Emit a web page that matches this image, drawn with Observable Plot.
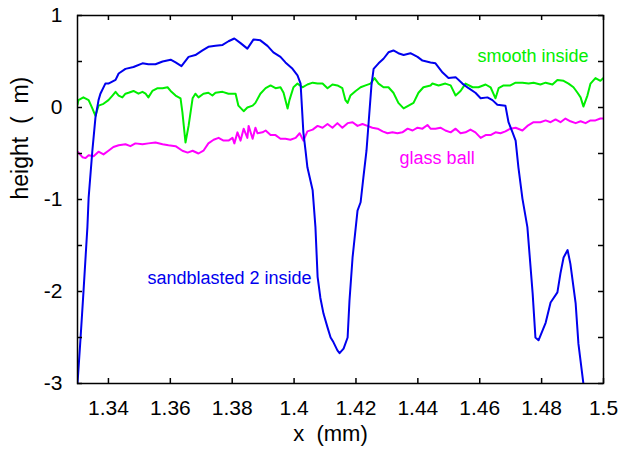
<!DOCTYPE html>
<html>
<head>
<meta charset="utf-8">
<script src="https://cdn.jsdelivr.net/npm/d3@7"></script>
<script src="https://cdn.jsdelivr.net/npm/@observablehq/plot@0.6"></script>
<style>
  html, body { margin: 0; padding: 0; background: #fff; }
</style>
</head>
<body>
<div id="chart"></div>
<script>
// sandblasted 2 inside (x in mm, height in µm)
const sandblasted = [[1.3300,-3.00],[1.3310,-2.50],[1.3319,-2.02],[1.3332,-1.30],[1.3336,-0.98],[1.3348,-0.47],[1.3358,-0.11],[1.3368,0.08],[1.3374,0.15],[1.3390,0.26],[1.3400,0.26],[1.3423,0.30],[1.3433,0.37],[1.3455,0.42],[1.3481,0.44],[1.3510,0.48],[1.3529,0.47],[1.3552,0.47],[1.3575,0.50],[1.3601,0.52],[1.3617,0.49],[1.3636,0.45],[1.3659,0.55],[1.3681,0.57],[1.3704,0.62],[1.3723,0.66],[1.3746,0.67],[1.3769,0.68],[1.3788,0.72],[1.3807,0.75],[1.3827,0.70],[1.3849,0.64],[1.3869,0.74],[1.3891,0.73],[1.3914,0.67],[1.3933,0.60],[1.3956,0.55],[1.3972,0.49],[1.3995,0.42],[1.4011,0.35],[1.4021,0.26],[1.4030,-0.27],[1.4037,-0.47],[1.4043,-0.65],[1.4060,-0.90],[1.4069,-1.30],[1.4076,-1.84],[1.4085,-2.07],[1.4095,-2.24],[1.4108,-2.39],[1.4118,-2.50],[1.4127,-2.55],[1.4140,-2.64],[1.4147,-2.67],[1.4160,-2.62],[1.4173,-2.50],[1.4179,-2.10],[1.4189,-1.63],[1.4205,-1.12],[1.4215,-1.03],[1.4224,-0.76],[1.4234,-0.47],[1.4241,-0.16],[1.4250,0.24],[1.4257,0.42],[1.4273,0.48],[1.4289,0.53],[1.4305,0.60],[1.4321,0.62],[1.4337,0.59],[1.4354,0.57],[1.4376,0.59],[1.4399,0.55],[1.4415,0.51],[1.4441,0.49],[1.4457,0.48],[1.4480,0.38],[1.4499,0.32],[1.4522,0.33],[1.4544,0.26],[1.4564,0.21],[1.4586,0.16],[1.4603,0.10],[1.4625,0.11],[1.4641,0.08],[1.4657,0.03],[1.4683,0.02],[1.4693,-0.16],[1.4706,-0.27],[1.4716,-0.36],[1.4725,-0.65],[1.4738,-0.99],[1.4754,-1.30],[1.4771,-2.02],[1.4780,-2.50],[1.4790,-2.53],[1.4813,-2.34],[1.4829,-2.12],[1.4851,-2.01],[1.4861,-1.80],[1.4871,-1.63],[1.4884,-1.55],[1.4893,-1.70],[1.4910,-2.13],[1.4919,-2.57],[1.4935,-3.00]];

// smooth inside
const smooth = [[1.3300,0.03],[1.3303,0.08],[1.3319,0.11],[1.3336,0.08],[1.3348,-0.01],[1.3358,-0.09],[1.3368,0.02],[1.3384,0.04],[1.3400,0.08],[1.3413,0.13],[1.3423,0.17],[1.3433,0.13],[1.3445,0.11],[1.3455,0.15],[1.3465,0.16],[1.3481,0.18],[1.3497,0.15],[1.3510,0.17],[1.3520,0.15],[1.3529,0.11],[1.3542,0.18],[1.3559,0.21],[1.3575,0.21],[1.3591,0.22],[1.3601,0.18],[1.3617,0.13],[1.3633,0.10],[1.3639,-0.05],[1.3649,-0.38],[1.3659,-0.20],[1.3672,0.10],[1.3681,0.15],[1.3691,0.11],[1.3707,0.15],[1.3723,0.16],[1.3736,0.13],[1.3746,0.16],[1.3769,0.17],[1.3788,0.15],[1.3811,0.15],[1.3820,0.02],[1.3837,-0.04],[1.3849,0.00],[1.3866,0.02],[1.3875,0.05],[1.3891,0.15],[1.3908,0.21],[1.3924,0.24],[1.3940,0.21],[1.3956,0.22],[1.3966,0.16],[1.3979,-0.01],[1.3985,0.08],[1.3998,0.22],[1.4011,0.26],[1.4027,0.22],[1.4043,0.25],[1.4060,0.27],[1.4076,0.26],[1.4092,0.26],[1.4108,0.21],[1.4124,0.25],[1.4140,0.24],[1.4156,0.21],[1.4166,0.08],[1.4173,0.05],[1.4182,0.13],[1.4199,0.18],[1.4215,0.22],[1.4231,0.24],[1.4247,0.26],[1.4260,0.32],[1.4273,0.26],[1.4289,0.22],[1.4305,0.22],[1.4321,0.16],[1.4337,0.05],[1.4354,-0.01],[1.4370,0.02],[1.4386,0.05],[1.4402,0.16],[1.4418,0.22],[1.4441,0.24],[1.4447,0.26],[1.4467,0.24],[1.4489,0.26],[1.4506,0.24],[1.4522,0.13],[1.4538,0.18],[1.4554,0.26],[1.4577,0.22],[1.4596,0.22],[1.4619,0.25],[1.4635,0.22],[1.4651,0.10],[1.4661,0.21],[1.4677,0.24],[1.4699,0.24],[1.4716,0.27],[1.4738,0.27],[1.4758,0.26],[1.4774,0.27],[1.4796,0.25],[1.4813,0.27],[1.4835,0.25],[1.4851,0.30],[1.4871,0.29],[1.4887,0.26],[1.4903,0.22],[1.4916,0.16],[1.4926,0.11],[1.4935,0.01],[1.4948,0.13],[1.4958,0.26],[1.4974,0.32],[1.4990,0.29],[1.5000,0.32]];

// glass ball
const glassBall = [[1.3300,-0.48],[1.3303,-0.49],[1.3316,-0.54],[1.3326,-0.55],[1.3336,-0.52],[1.3352,-0.53],[1.3368,-0.48],[1.3384,-0.51],[1.3400,-0.47],[1.3416,-0.43],[1.3433,-0.41],[1.3455,-0.40],[1.3471,-0.42],[1.3487,-0.39],[1.3510,-0.40],[1.3529,-0.39],[1.3552,-0.38],[1.3575,-0.40],[1.3594,-0.41],[1.3617,-0.42],[1.3639,-0.47],[1.3656,-0.49],[1.3672,-0.47],[1.3691,-0.50],[1.3707,-0.47],[1.3723,-0.39],[1.3740,-0.35],[1.3756,-0.33],[1.3772,-0.36],[1.3788,-0.36],[1.3801,-0.33],[1.3807,-0.39],[1.3817,-0.27],[1.3827,-0.36],[1.3837,-0.23],[1.3849,-0.33],[1.3853,-0.20],[1.3866,-0.34],[1.3875,-0.22],[1.3882,-0.28],[1.3898,-0.27],[1.3908,-0.25],[1.3924,-0.30],[1.3940,-0.30],[1.3956,-0.34],[1.3972,-0.34],[1.3988,-0.35],[1.4005,-0.33],[1.4018,-0.28],[1.4030,-0.36],[1.4043,-0.26],[1.4060,-0.24],[1.4076,-0.20],[1.4092,-0.22],[1.4108,-0.18],[1.4124,-0.22],[1.4140,-0.17],[1.4156,-0.22],[1.4173,-0.17],[1.4189,-0.16],[1.4205,-0.20],[1.4221,-0.18],[1.4237,-0.20],[1.4253,-0.22],[1.4270,-0.23],[1.4286,-0.26],[1.4302,-0.28],[1.4318,-0.27],[1.4334,-0.28],[1.4350,-0.27],[1.4367,-0.23],[1.4383,-0.25],[1.4399,-0.22],[1.4415,-0.23],[1.4431,-0.19],[1.4441,-0.23],[1.4457,-0.23],[1.4473,-0.22],[1.4489,-0.25],[1.4506,-0.27],[1.4522,-0.23],[1.4538,-0.28],[1.4554,-0.27],[1.4570,-0.24],[1.4586,-0.27],[1.4603,-0.33],[1.4619,-0.30],[1.4635,-0.30],[1.4651,-0.27],[1.4667,-0.28],[1.4683,-0.26],[1.4699,-0.23],[1.4716,-0.22],[1.4738,-0.25],[1.4754,-0.20],[1.4774,-0.16],[1.4796,-0.16],[1.4813,-0.14],[1.4829,-0.16],[1.4845,-0.13],[1.4861,-0.16],[1.4877,-0.12],[1.4893,-0.15],[1.4910,-0.17],[1.4926,-0.15],[1.4942,-0.17],[1.4958,-0.14],[1.4974,-0.14],[1.4990,-0.12],[1.5000,-0.12]];

// axis ticks
const xTicks = [1.34, 1.36, 1.38, 1.40, 1.42, 1.44, 1.46, 1.48, 1.5];
const xTickLabels = ["1.34", "1.36", "1.38", "1.4", "1.42", "1.44", "1.46", "1.48", "1.5"];
const yTicks = [-3, -2, -1, 0, 1];
const yMinorTicks = [-3, -2.5, -2, -1.5, -1, -0.5, 0, 0.5, 1];

// series labels
const seriesNames = ["sandblasted 2 inside", "smooth inside", "glass ball"];
const seriesColors = ["#0000ee", "#00ee00", "#ff00ff"];
const labelX = [1.3526, 1.4593, 1.4341];
const labelY = [-1.92, 0.49, -0.61];

const W = 624, H = 450;
const mL = 77, mR = 21, mT = 15, mB = 67;
const fw = W - mL - mR, fh = H - mT - mB;
const tickLen = 5;
const font = "'Liberation Sans', Arial, Helvetica, sans-serif";

const toRows = (arr, name) => arr.map(([x, y]) => ({x, y, name}));
const labels = seriesNames.map((name, i) => ({name, x: labelX[i], y: labelY[i], color: seriesColors[i]}));

const chart = Plot.plot({
  width: W,
  height: H,
  marginLeft: mL,
  marginRight: mR,
  marginTop: mT,
  marginBottom: mB,
  style: {fontFamily: font, background: "#fff", color: "#000"},
  x: {domain: [1.33, 1.5]},
  y: {domain: [-3, 1]},
  marks: [
    Plot.line(toRows(glassBall, "glass ball"), {x: "x", y: "y", stroke: seriesColors[2], strokeWidth: 2, clip: true}),
    Plot.line(toRows(smooth, "smooth inside"), {x: "x", y: "y", stroke: seriesColors[1], strokeWidth: 2, clip: true}),
    Plot.line(toRows(sandblasted, "sandblasted 2 inside"), {x: "x", y: "y", stroke: seriesColors[0], strokeWidth: 2, clip: true}),
    // inward ticks
    Plot.tickX(xTicks, {x: d => d, insetTop: fh - tickLen, stroke: "#000", strokeWidth: 1.5}),
    Plot.tickX(xTicks, {x: d => d, insetBottom: fh - tickLen, stroke: "#000", strokeWidth: 1.5}),
    Plot.tickY(yMinorTicks, {y: d => d, insetRight: fw - tickLen, stroke: "#000", strokeWidth: 1.5}),
    Plot.tickY(yMinorTicks, {y: d => d, insetLeft: fw - tickLen, stroke: "#000", strokeWidth: 1.5}),
    Plot.frame({stroke: "#000", strokeWidth: 1.5}),
    Plot.axisX(xTicks, {tickSize: 0, tickPadding: 17, fontSize: 21, label: null, tickFormat: (d, i) => xTickLabels[i]}),
    Plot.axisY(yTicks, {tickSize: 0, tickPadding: 15, fontSize: 21, label: null, tickFormat: d => String(d)}),
    Plot.text(["x\u00a0\u00a0(mm)"], {frameAnchor: "bottom", dy: 57, dx: -10, fontSize: 22, fill: "#000"}),
    Plot.text(["height\u00a0\u00a0(\u00a0\u00a0m)"], {frameAnchor: "left", dx: -57, rotate: -90, fontSize: 23, fill: "#000"}),
    Plot.text(labels, {x: "x", y: "y", text: "name", fill: "color", fontSize: 18, textAnchor: "start", lineAnchor: "bottom"})
  ]
});

document.getElementById("chart").appendChild(chart);
</script>
</body>
</html>
